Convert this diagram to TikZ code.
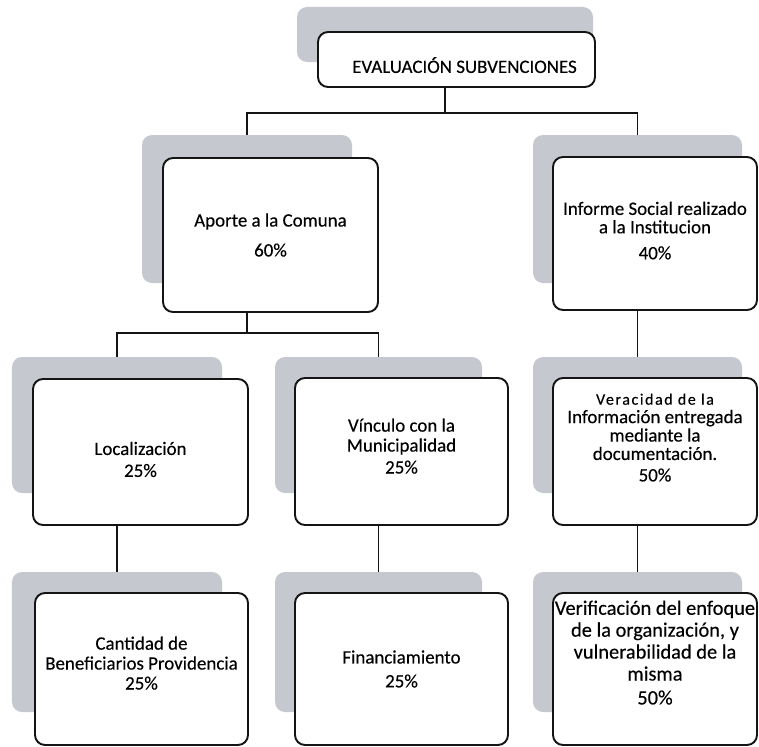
\documentclass[tikz,border=0pt]{standalone}
\usepackage{fontspec}
\newfontfamily\chartfont[FakeBold=0.3]{Carlito}
\usetikzlibrary{calc}
\definecolor{shadowgray}{RGB}{198,200,207}
\definecolor{boxline}{RGB}{20,20,20}
% invisible struts that move a node's text up or down
\newcommand\pushup[1]{\rule[-#1]{0pt}{#1}}
\newcommand\pushdown[1]{\rule{0pt}{#1}}

\begin{document}
\lineskiplimit=-100pt\relax
\begin{tikzpicture}[x=1bp, y=-1bp,
    shadowbox/.style={fill=shadowgray, rounded corners=10bp, inner sep=0pt, minimum width=210bp},
    itembox/.style={draw=boxline, line width=1.9bp, fill=white, rounded corners=10bp, inner sep=1bp,
      align=center, minimum width=215bp, font=\chartfont\fontsize{19}{18.5}\selectfont},
    link/.style={draw=boxline, line width=1.9bp}]
  \useasboundingbox (0,0) rectangle (759,747);

  % grey shadows behind the boxes
  \node[shadowbox, minimum width=296bp, minimum height=55bp] (root-s) at (445,34.5) {};
  \node[shadowbox, minimum height=148bp] (aporte-s) at (247,209) {};
  \node[shadowbox, minimum width=209bp, minimum height=148bp] (informe-s) at (637.5,209) {};
  \node[shadowbox, minimum height=136bp] (loc-s) at (117,425) {};
  \node[shadowbox, minimum width=207bp, minimum height=136bp] (vinc-s) at (378.5,425) {};
  \node[shadowbox, minimum width=209bp, minimum height=136bp] (vera-s) at (637.5,425) {};
  \node[shadowbox, minimum height=140bp] (cant-s) at (117,642) {};
  \node[shadowbox, minimum width=207bp, minimum height=140bp] (fin-s) at (378.5,642) {};
  \node[shadowbox, minimum width=209bp, minimum height=140bp] (veri-s) at (637.5,642) {};

  % boxes
  \node[itembox, minimum width=277bp, minimum height=55bp] (root) at (456.5,59.5)
    {\pushdown{27bp}\hspace*{16bp}EVALUACIÓN SUBVENCIONES};
  \node[itembox, minimum height=154bp] (aporte) at (270.5,235) {Aporte a la Comuna\\[11.5bp] 60\%};
  \node[itembox, minimum width=204bp, minimum height=153bp] (informe) at (655,233.5)
    {Informe Social realizado\\ a la Institucion\\[7.5bp] 40\%\pushup{6bp}};
  \node[itembox, minimum height=146bp] (loc) at (140.5,452) {\pushdown{28bp}Localización\\[3.5bp] 25\%};
  \node[itembox, minimum width=213bp, minimum height=147bp] (vinc) at (401.5,451.5)
    {Vínculo con la\\[1.5bp] Municipalidad\\[3.5bp] 25\%\pushup{11bp}};
  \node[itembox, minimum width=204bp, minimum height=147bp,
    font=\chartfont\fontsize{19}{18.5}\selectfont] (vera) at (655,451.5)
    {{\addfontfeature{LetterSpace=10}\fontsize{16}{18.5}\selectfont Veracidad de la}\\ Información entregada\\ mediante la\\ documentación.\\[3bp] 50\%\pushup{28bp}};
  \node[itembox, minimum width=213bp, minimum height=152bp] (cant) at (141.5,669)
    {Cantidad de\\[1.5bp] Beneficiarios Providencia\\[1.5bp] 25\%\pushup{12bp}};
  \node[itembox, minimum width=213bp, minimum height=152bp] (fin) at (401.5,669) {Financiamiento\\[5.5bp] 25\%};
  \node[itembox, minimum width=204bp, minimum height=152bp,
    font=\chartfont\fontsize{20.5}{22}\selectfont] (veri) at (655,669)
    {Verificación del enfoque\\ de la organización, y\\ vulnerabilidad de la\\ misma\\[2bp] 50\%\pushup{33bp}};

  % connectors
  \draw[link] (root.south -| root-s) -- ++(0,25) coordinate (bus-top);
  \draw[link] (aporte-s.north) |- (bus-top) -| (informe-s.north);
  \draw[link] (aporte.south -| aporte-s) -- ++(0,20) coordinate (bus-mid);
  \draw[link] (loc-s.north) |- (bus-mid) -| (vinc-s.north);
  \draw[link] (informe.south -| informe-s) -- (vera-s.north);
  \draw[link] (loc.south -| loc-s) -- (cant-s.north);
  \draw[link] (vinc.south -| vinc-s) -- (fin-s.north);
  \draw[link] (vera.south -| vera-s) -- (veri-s.north);
\end{tikzpicture}
\end{document}
